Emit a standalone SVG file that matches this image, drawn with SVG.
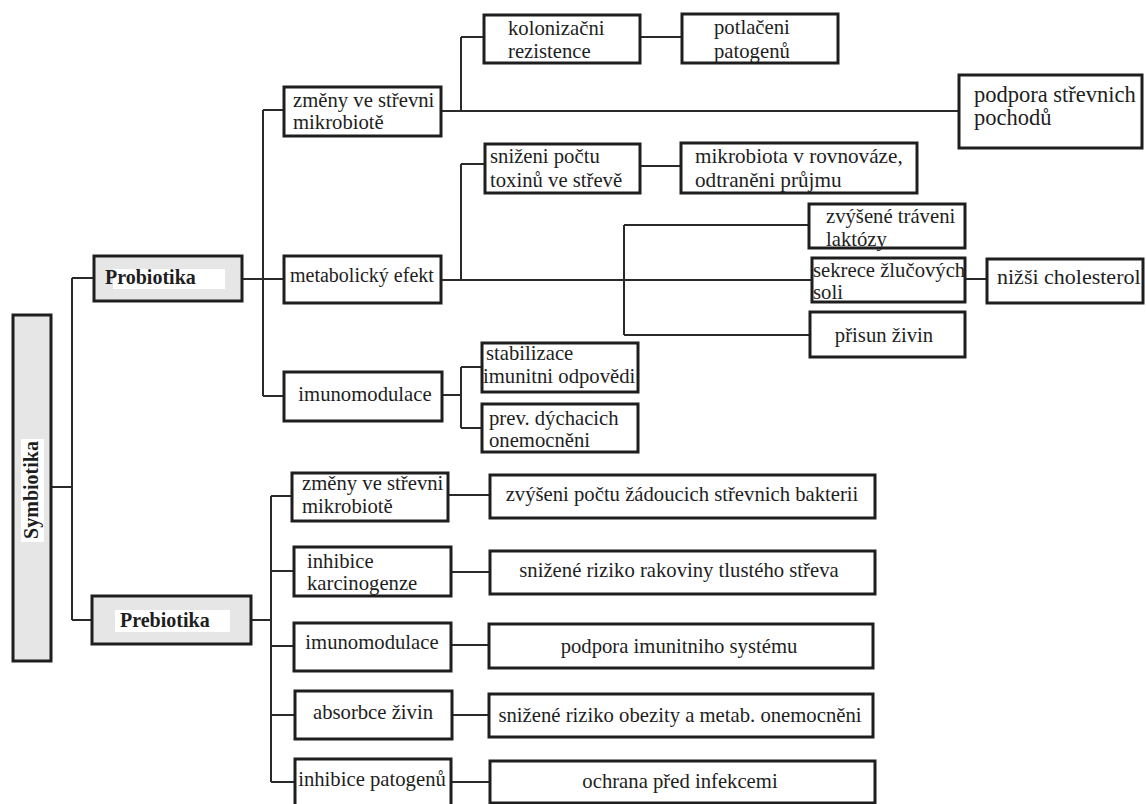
<svg xmlns="http://www.w3.org/2000/svg" width="1146" height="804" viewBox="0 0 1146 804">
<style>
.box{fill:#fff;stroke:#1e1e1e;stroke-width:3}
.gray{fill:#e6e6e6;stroke:#1e1e1e;stroke-width:3}
.wbg{fill:#fff;stroke:none}
.con{fill:none;stroke:#2a2a2a;stroke-width:2}
text{font-family:'Liberation Serif',Tinos,'Times New Roman',Times,'DejaVu Serif',serif;font-size:20.7px;fill:#1e1e1e}
.b{font-weight:bold;font-size:20px}
.c{text-anchor:middle}
</style>
<rect x="0" y="0" width="1146" height="804" fill="#fff"/>
<g id="connectors">
<path class="con" d="M51,487H72M72,278V620M72,278H94M72,620H92"/>
<path class="con" d="M242,279H284M263,110V396M263,110H284M263,396H284"/>
<path class="con" d="M441,111H959M461,37V111M461,37H484M640,37H682"/>
<path class="con" d="M441,280H812M461,164V280M461,164H485M640,166H681M624,225V335M624,225H809M624,335H810M965,279H987"/>
<path class="con" d="M442,395H461M461,367V428M461,367H482M461,428H482"/>
<path class="con" d="M251,620H271M271,496V782M271,496H292M271,571H294M271,646H294M271,715H295M271,782H295"/>
<path class="con" d="M448,495H490M451,572H490M451,645H489M452,715H489M451,782H490"/>
</g>
<g id="symbiotika">
<rect class="gray" x="13" y="315" width="38" height="346"/>
<rect class="wbg" x="21" y="439" width="23" height="103"/>
<text class="b c" transform="translate(38,490) rotate(-90)">Symbiotika</text>
</g>
<g id="probiotika">
<rect class="gray" x="94" y="256" width="148" height="45"/>
<rect class="wbg" x="113" y="269" width="112" height="20"/>
<text class="b" x="105" y="284">Probiotika</text>
</g>
<g id="prebiotika">
<rect class="gray" x="92" y="596" width="159" height="48"/>
<rect class="wbg" x="115" y="610" width="115" height="22"/>
<text class="b" x="120" y="627">Prebiotika</text>
</g>
<g id="pro-zmeny">
<rect class="box" x="284" y="87" width="157" height="49"/>
<text x="293" y="107">změny ve střevni</text>
<text x="293" y="129">mikrobiotě</text>
</g>
<g id="pro-metab">
<rect class="box" x="284" y="256" width="157" height="47"/>
<text x="290" y="282" style="font-size:20px">metabolický efekt</text>
</g>
<g id="pro-imuno">
<rect class="box" x="284" y="372" width="158" height="49"/>
<text class="c" x="365" y="401">imunomodulace</text>
</g>
<g id="kolonizacni">
<rect class="box" x="484" y="15" width="156" height="48"/>
<text x="508" y="35">kolonizačni</text>
<text x="508" y="58">rezistence</text>
</g>
<g id="potlaceni">
<rect class="box" x="682" y="14" width="156" height="49"/>
<text x="714" y="34">potlačeni</text>
<text x="714" y="58">patogenů</text>
</g>
<g id="podpora">
<rect class="box" x="959" y="75" width="183" height="73"/>
<text x="974" y="102" style="font-size:22.5px">podpora střevnich</text>
<text x="974" y="125" style="font-size:22.5px">pochodů</text>
</g>
<g id="snizeni">
<rect class="box" x="485" y="144" width="155" height="49"/>
<text x="490" y="163">sniženi počtu</text>
<text x="490" y="187">toxinů ve střevě</text>
</g>
<g id="mikrobiota">
<rect class="box" x="681" y="143" width="236" height="50"/>
<text x="695" y="163" style="font-size:21.2px">mikrobiota v rovnováze,</text>
<text x="695" y="187" style="font-size:21.2px">odtraněni průjmu</text>
</g>
<g id="zvysene">
<rect class="box" x="809" y="204" width="156" height="44"/>
<text x="826" y="223">zvýšené tráveni</text>
<text x="826" y="246">laktózy</text>
</g>
<g id="sekrece">
<rect class="box" x="812" y="258" width="153" height="44"/>
<text x="813" y="277">sekrece žlučových</text>
<text x="813" y="299">soli</text>
</g>
<g id="nizsi">
<rect class="box" x="987" y="259" width="156" height="44"/>
<text x="997" y="284" style="font-size:22px">nižši cholesterol</text>
</g>
<g id="prisun">
<rect class="box" x="810" y="312" width="155" height="45"/>
<text class="c" x="884" y="342">přisun živin</text>
</g>
<g id="stabilizace">
<rect class="box" x="482" y="343" width="156" height="49"/>
<text x="486" y="360">stabilizace</text>
<text x="483" y="383">imunitni odpovědi</text>
</g>
<g id="prev">
<rect class="box" x="482" y="404" width="156" height="48"/>
<text x="489" y="425">prev. dýchacich</text>
<text x="489" y="447">onemocněni</text>
</g>
<g id="pre-zmeny">
<rect class="box" x="292" y="473" width="156" height="48"/>
<text x="302" y="490">změny ve střevni</text>
<text x="302" y="513">mikrobiotě</text>
</g>
<g id="pre-inhk">
<rect class="box" x="294" y="547" width="157" height="49"/>
<text x="307" y="568">inhibice</text>
<text x="307" y="590">karcinogenze</text>
</g>
<g id="pre-imuno">
<rect class="box" x="294" y="623" width="157" height="48"/>
<text class="c" x="372" y="649">imunomodulace</text>
</g>
<g id="pre-abs">
<rect class="box" x="295" y="691" width="157" height="48"/>
<text class="c" x="373" y="719">absorbce živin</text>
</g>
<g id="pre-inhp">
<rect class="box" x="295" y="759" width="156" height="50"/>
<text class="c" x="372" y="786">inhibice patogenů</text>
</g>
<g id="r-bakterie">
<rect class="box" x="490" y="475" width="385" height="43"/>
<text class="c" x="682" y="501">zvýšeni počtu žádoucich střevnich bakterii</text>
</g>
<g id="r-rakovina">
<rect class="box" x="490" y="551" width="385" height="43"/>
<text class="c" x="679" y="577">snižené riziko rakoviny tlustého střeva</text>
</g>
<g id="r-imunita">
<rect class="box" x="489" y="624" width="384" height="44"/>
<text class="c" x="679" y="653">podpora imunitniho systému</text>
</g>
<g id="r-obezita">
<rect class="box" x="489" y="694" width="384" height="43"/>
<text class="c" x="680" y="722">snižené riziko obezity a metab. onemocněni</text>
</g>
<g id="r-infekce">
<rect class="box" x="490" y="761" width="385" height="42"/>
<text class="c" x="680" y="788">ochrana před infekcemi</text>
</g>
</svg>
